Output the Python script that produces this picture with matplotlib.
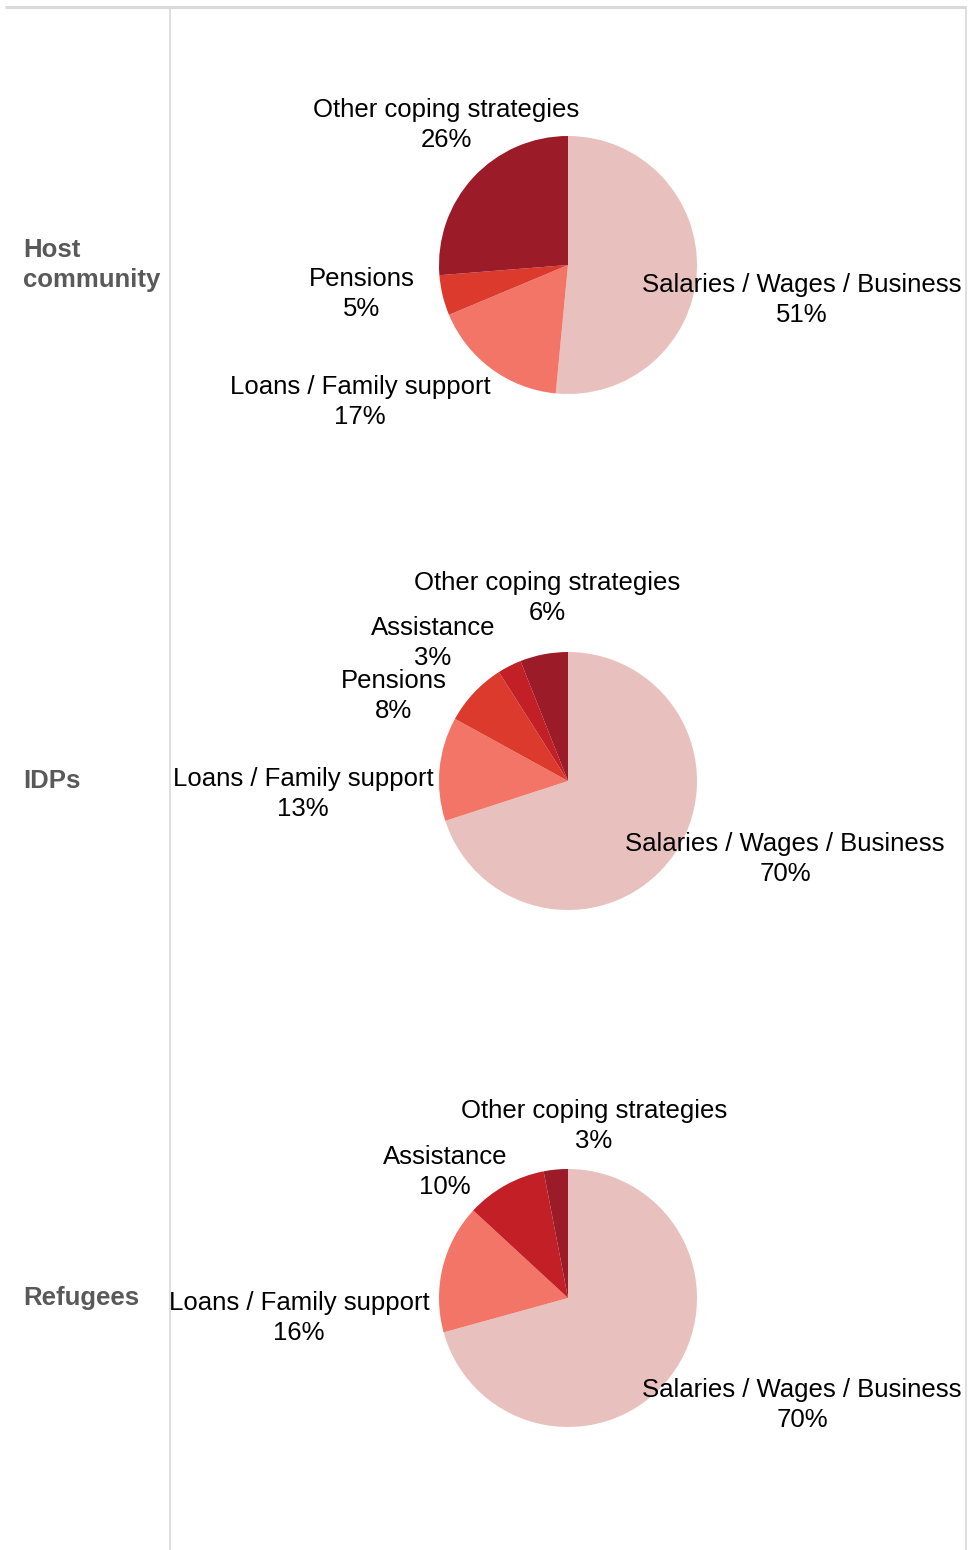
import matplotlib
matplotlib.use('Agg')
import matplotlib.pyplot as plt

plt.rcParams['font.family'] = ['Liberation Sans', 'DejaVu Sans']

# --------------------------- data ---------------------------
groups = ['Host\ncommunity', 'IDPs', 'Refugees']
categories = ['Salaries / Wages / Business', 'Loans / Family support',
              'Pensions', 'Assistance', 'Other coping strategies']
host_vals = [51, 17, 5, 0, 26]
idp_vals = [70, 13, 8, 3, 6]
refugee_vals = [70, 16, 0, 10, 3]
all_vals = [host_vals, idp_vals, refugee_vals]

colors = ['#E8C1BE', '#F27567', '#DB3A2C', '#C22026', '#9C1B28']

# --------------------------- layout (pixels) ---------------------------
W, H = 968, 1550
pie_cx = 568
pie_cy = [265, 781, 1298]
pie_r = 129
group_label_y = [265, 781, 1298]

# label centres (px) per pie, per category (None = no label)
label_pos = [
    [(802, 300), (360, 402), (362, 294), None, (446, 125)],
    [(785, 859), (303, 794), (394, 696), (433, 643), (547, 598)],
    [(802, 1405), (299, 1318), None, (445, 1172), (594, 1126)],
]

fig = plt.figure(figsize=(W / 100, H / 100), dpi=100)

# pies first
for vals, cy in zip(all_vals, pie_cy):
    ax = fig.add_axes([(pie_cx - pie_r) / W, 1 - (cy + pie_r) / H,
                       2 * pie_r / W, 2 * pie_r / H])
    ax.pie(vals, colors=colors, startangle=90, counterclock=False,
           radius=1, wedgeprops=dict(linewidth=0))
    ax.set_xlim(-1, 1)
    ax.set_ylim(-1, 1)
    ax.axis('off')

# overlay axes in pixel coords for frame lines and text
bg = fig.add_axes([0, 0, 1, 1], zorder=10)
bg.patch.set_alpha(0)
bg.set_xlim(0, W)
bg.set_ylim(H, 0)
bg.axis('off')

bg.plot([5, 966], [7, 7], color='#D9D9D9', lw=2.2, solid_capstyle='butt')
bg.plot([170, 170], [8, H], color='#D9D9D9', lw=1.2)
bg.plot([966, 966], [7, H], color='#D9D9D9', lw=1.2)

for g, gy in zip(groups, group_label_y):
    bg.text(23, gy, g, ha='left', va='center', fontsize=18.5,
            fontweight='bold', color='#595959', linespacing=1.3)

for cat_vals, lp in zip(all_vals, label_pos):
    for cat, v, pos in zip(categories, cat_vals, lp):
        if pos is None or v == 0:
            continue
        bg.text(pos[0], pos[1], f"{cat}\n{v}%", ha='center', va='center',
                fontsize=18.5, color='black', linespacing=1.27)

plt.savefig('out.png', dpi=100)
